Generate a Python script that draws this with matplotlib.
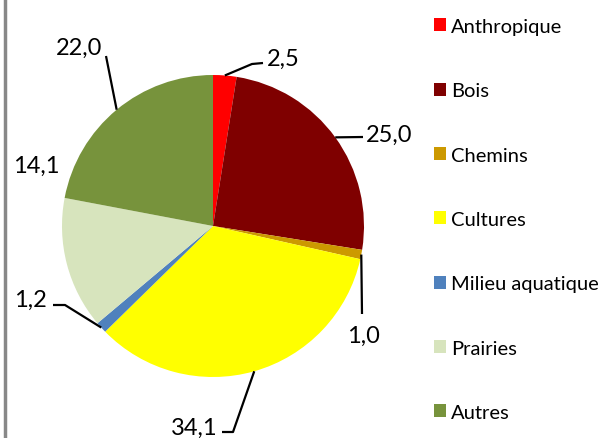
import numpy as np
import matplotlib.pyplot as plt
from matplotlib.patches import Patch

plt.rcParams['font.family'] = ['Lato', 'DejaVu Sans']

# Donnees
categories = ['Anthropique', 'Bois', 'Chemins', 'Cultures', 'Milieu aquatique', 'Prairies', 'Autres']
values = [2.5, 25.0, 1.0, 34.1, 1.2, 14.1, 22.0]
colors = ['#FF0000', '#7F0000', '#CC9900', '#FFFF00', '#4F81BD', '#D7E4BD', '#77933C']

W, H = 604, 439
fig = plt.figure(figsize=(W / 100, H / 100), dpi=100)
ax = fig.add_axes([0, 0, 1, 1])

cx, cy, r = 213, H - 227, 151
wedges, _ = ax.pie(values, colors=colors, startangle=90, counterclock=False,
                   center=(cx, cy), radius=r, frame=True,
                   wedgeprops=dict(linewidth=0))
ax.set_xlim(0, W)
ax.set_ylim(0, H)
ax.set_aspect('equal')
ax.axis('off')

# etiquettes : (x gauche, ligne de base) du texte, coudes de la ligne, en pixels image
label_pos = [
    ((267, 66), [(252, 65), (263, 64)]),
    ((366, 142), [(363, 138)]),
    ((347, 343), [(362, 315)]),
    ((171, 435), [(233, 433), (222, 433)]),
    ((14, 307), [(65, 306), (53, 306)]),
    ((13, 173), None),
    ((56, 55), [(106, 57)]),
]

total = sum(values)
cum = 0
for v, (tpos, pts) in zip(values, label_pos):
    mid = np.deg2rad(90 - (cum + v / 2) / total * 360)
    cum += v
    ex, ey = cx + r * np.cos(mid), cy + r * np.sin(mid)
    if pts is not None:
        xs = [ex] + [p[0] for p in pts]
        ys = [ey] + [H - p[1] for p in pts]
        ax.plot(xs, ys, color='black', lw=1.6, solid_capstyle='butt')
    ax.text(tpos[0], H - tpos[1], f'{v:.1f}'.replace('.', ','), fontsize=17,
            ha='left', va='baseline', color='black')

# legende
handles = [Patch(facecolor=c, edgecolor='none') for c in colors]
fig.legend(handles, categories, loc='upper left', bbox_to_anchor=(434 / W, 1 - 19 / H),
           frameon=False, fontsize=14.5, handlelength=0.62, handleheight=0.62,
           handletextpad=0.23, labelspacing=2.35, borderaxespad=0, borderpad=0)

# bordure grise a gauche
ax.plot([5, 5], [0, H], color='#888888', lw=2.5)

fig.savefig('out.png', dpi=100)
